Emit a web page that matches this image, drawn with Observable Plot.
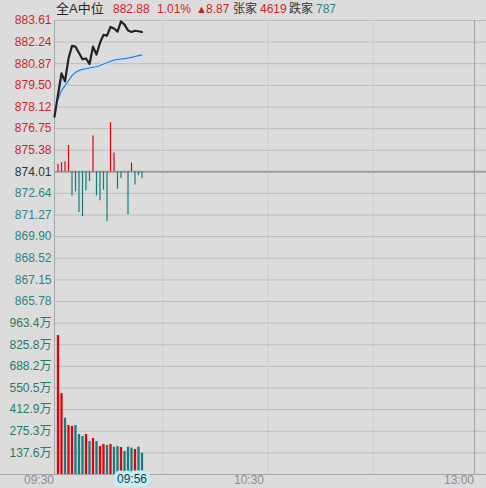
<!DOCTYPE html>
<html><head><meta charset="utf-8">
<script src="https://cdn.jsdelivr.net/npm/d3@7"></script>
<script src="https://cdn.jsdelivr.net/npm/@observablehq/plot@0.6"></script>
<style>
html,body{margin:0;padding:0;background:#dcdcdc;}
#wrap{position:relative;width:486px;height:488px;overflow:hidden;background:#dcdcdc;font-family:"Liberation Sans",Arial,"Noto Sans CJK SC",sans-serif;}
#wrap svg{position:absolute;left:0;top:0;}
#hdr{position:absolute;top:2px;left:0;width:486px;height:16px;font-size:12px;line-height:14px;white-space:nowrap;z-index:2;}
#hdr span{position:absolute;top:0;}
</style></head><body><div id="wrap"><div id="hdr"></div></div>
<script>
// ---- header values ----
const title = "全A中位";
const lastPrice = "882.88";
const pctChange = "1.01%";
const change = "8.87";
const upLabel = "张家", upCount = "4619";
const downLabel = "跌家", downCount = "787";

// ---- axes ----
const prevClose = 874.01;
const priceTicks = [883.61, 882.24, 880.87, 879.50, 878.12, 876.75, 875.38, 874.01, 872.64, 871.27, 869.90, 868.52, 867.15, 865.78];
const volumeTicks = [137.6, 275.3, 412.9, 550.5, 688.2, 825.8, 963.4];
const volumeMax = 1101.0;
const timeLabels = ["09:30", "10:30", "13:00"];
const timeSlots = [1, 61, 121];
const gridSlots = [31, 61, 91];
const cursorLabel = "09:56";
const cursorSlot = 27;

// ---- series (slot 0 = opening auction, slot 1 = 09:30 ...) ----
const price = [877.51, 878.90, 880.25, 879.75, 881.20, 882.00, 881.95, 881.55, 881.15, 881.20,
               880.85, 881.95, 881.45, 882.20, 882.70, 882.65, 883.20, 883.10, 882.90, 883.55,
               883.35, 882.98, 882.88, 882.96, 882.93, 882.88];
const avgPrice = [878.63, 879.16, 879.48, 879.79, 880.11, 880.32, 880.43, 880.51, 880.55, 880.60,
                  880.64, 880.68, 880.76, 880.85, 880.93, 881.02, 881.10, 881.14, 881.17, 881.19,
                  881.23, 881.27, 881.33, 881.38, 881.42];
const breadth = [0.47, 0.58, 0.63, 1.67, -1.53, -1.27, -2.59, -2.85, -1.22, -0.61,
                 2.27, -1.53, -1.84, -1.17, -3.17, 3.12, 1.19, -1.11, -0.42, -0.08,
                 -2.73, 0.55, -0.84, -0.24, -0.42];
const volume = [884.3, 515.3, 358.2, 311.7, 305.4, 311.7, 254.5, 241.8, 254.5, 210.0,
                229.0, 210.0, 178.0, 191.0, 184.5, 191.0, 173.7, 178.0, 171.8, 146.3,
                173.7, 167.3, 159.0, 173.7, 135.5];

// ---- colours ----
const RED = "#e3000e", TEAL = "#167c7c", TXT_RED = "#cf1f2a", TXT_TEAL = "#2b8585", TXT_VOL = "#2b7a5f";

// header
const hdr = document.getElementById("hdr");
const parts = [
  [title, 56, "#262626", "13px"],
  [lastPrice, 113, TXT_RED],
  [pctChange, 157, TXT_RED],
  ["▲", 196, TXT_RED, "11px"],
  [change, 206, TXT_RED],
  [upLabel, 233, "#333"],
  [upCount, 260, TXT_RED],
  [downLabel, 289, "#333"],
  [downCount, 316, TXT_TEAL]
];
for (const [t, l, c, fs] of parts) {
  const s = document.createElement("span");
  s.textContent = t; s.style.left = l + "px"; s.style.color = c;
  if (fs) { s.style.fontSize = fs; }
  hdr.appendChild(s);
}

const priceData = price.map((v, i) => ({slot: i, v}));
const avgData = avgPrice.map((v, i) => ({slot: i + 1, v}));
const breadthData = breadth.map((v, i) => ({slot: i + 1, v}));
const volumeData = volume.map((v, i) => ({slot: i + 1, v, up: price[i + 1] >= price[i]}));

const W = 486, H = 488, ML = 54, MR = 12;
const xDomain = [0, 120];
const pxPerSlot = (W - ML - MR) / (xDomain[1] - xDomain[0]);
const xPageLeft = xDomain[0] - ML / pxPerSlot;
const xPageRight = xDomain[1] + MR / pxPerSlot;
const font = "'Liberation Sans', Arial, 'Noto Sans CJK SC', sans-serif";
const GRID = "#bdbdbd", BORDER = "#a4a4a4", DOT = "#c2c2c2";

const upTicks = priceTicks.filter(t => t > prevClose);
const downTicks = priceTicks.filter(t => t < prevClose);

const pricePlot = Plot.plot({
  width: W, height: H,
  marginLeft: ML, marginRight: MR, marginTop: 20, marginBottom: 187,
  x: {domain: xDomain, axis: null},
  y: {domain: [priceTicks[priceTicks.length - 1], priceTicks[0]]},
  style: {background: "transparent", fontFamily: font, fontSize: "12px", overflow: "visible"},
  marks: [
    Plot.ruleY(priceTicks.filter(t => t !== prevClose), {x1: xDomain[0], x2: xPageRight, stroke: GRID, strokeWidth: 1}),
    Plot.ruleY([prevClose], {x1: xDomain[0], x2: xPageRight, stroke: "#9d9d9d", strokeWidth: 2}),
    Plot.ruleX(gridSlots, {stroke: DOT, strokeWidth: 1.5, strokeDasharray: "1,1.5"}),
    Plot.ruleX([xDomain[0]], {stroke: BORDER}),
    Plot.ruleX([xDomain[1]], {stroke: BORDER}),
    Plot.ruleX(breadthData, {x: "slot", y1: () => prevClose, y2: d => prevClose + d.v, stroke: d => d.v >= 0 ? RED : TEAL, strokeWidth: 1.2}),
    Plot.line(avgData, {x: "slot", y: "v", stroke: "#bfe0f4", strokeWidth: 3.5}),
    Plot.line(avgData, {x: "slot", y: "v", stroke: "#2f76cf", strokeWidth: 1.1}),
    Plot.line(priceData, {x: "slot", y: "v", stroke: "#222", strokeWidth: 2.2}),
    Plot.axisY({ticks: upTicks, anchor: "left", tickSize: 0, tickPadding: 3, tickFormat: d => d.toFixed(2), color: TXT_RED, label: null}),
    Plot.axisY({ticks: [prevClose], anchor: "left", tickSize: 0, tickPadding: 3, tickFormat: d => d.toFixed(2), color: "#333", label: null}),
    Plot.axisY({ticks: downTicks, anchor: "left", tickSize: 0, tickPadding: 3, tickFormat: d => d.toFixed(2), color: TXT_TEAL, label: null})
  ]
});

const volPlot = Plot.plot({
  width: W, height: H,
  marginLeft: ML, marginRight: MR, marginTop: 301, marginBottom: 14,
  x: {domain: xDomain, axis: null},
  y: {domain: [0, volumeMax]},
  style: {background: "transparent", fontFamily: font, fontSize: "12px", overflow: "visible"},
  marks: [
    Plot.ruleY(volumeTicks, {x1: xDomain[0], x2: xPageRight, stroke: GRID, strokeWidth: 1}),
    Plot.ruleY([0], {x1: xPageLeft, x2: xPageRight, stroke: BORDER}),
    Plot.ruleX(gridSlots, {stroke: DOT, strokeWidth: 1.5, strokeDasharray: "1,1.5"}),
    Plot.ruleX([xDomain[0]], {stroke: BORDER}),
    Plot.ruleX([xDomain[1]], {stroke: BORDER}),
    Plot.ruleX(volumeData, {x: "slot", y1: () => 0, y2: "v", stroke: d => d.up ? RED : TEAL, strokeWidth: 2.3}),
    Plot.axisY({ticks: volumeTicks, anchor: "left", tickSize: 0, tickPadding: 3, tickFormat: d => d.toFixed(1) + "万", color: TXT_VOL, label: null}),
    Plot.text(timeLabels.map((t, i) => ({t, slot: timeSlots[i]})), {x: "slot", text: "t", frameAnchor: "bottom", textAnchor: "end", dx: -4, dy: 9, fill: "#8c8c8c"}),
    Plot.text([{t: cursorLabel, slot: cursorSlot}], {x: "slot", text: "t", frameAnchor: "bottom", textAnchor: "end", dx: -2, dy: 8.5, fill: "#203a55", stroke: "#c4f0f2", strokeWidth: 7, strokeLinejoin: "miter", paintOrder: "stroke"})
  ]
});

const wrap = document.getElementById("wrap");
wrap.insertBefore(volPlot, hdr);
wrap.insertBefore(pricePlot, volPlot);
</script></body></html>
